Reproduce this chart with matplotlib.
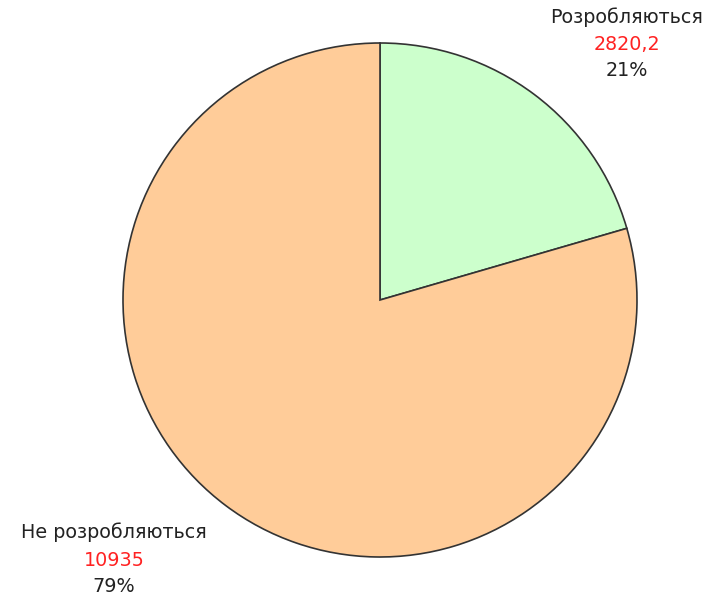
import matplotlib
matplotlib.use("Agg")
import matplotlib.pyplot as plt

categories = ["Розробляються", "Не розробляються"]
values = [2820.2, 10935]
value_labels = ["2820,2", "10935"]
colors = ["#CCFFCC", "#FFCC99"]

W, H = 712, 597
fig = plt.figure(figsize=(W / 100, H / 100), dpi=100)
ax = fig.add_axes([0, 0, 1, 1])
ax.set_xlim(0, W)
ax.set_ylim(H, 0)
ax.axis("off")

pax = fig.add_axes([0, 0, 1, 1])
pax.pie(values, colors=colors, startangle=90, counterclock=False,
        center=(380, H - 300), radius=257,
        wedgeprops=dict(edgecolor="#333333", linewidth=1.2), frame=True)
pax.set_xlim(0, W)
pax.set_ylim(0, H)
pax.axis("off")

total = sum(values)
pcts = [f"{v / total * 100:.0f}%" for v in values]

fs = 13.8
fam = ["DejaVu Sans"]
label_pos = [(627, 17), (114, 532)]
for (x, y), cat, vl, pc in zip(label_pos, categories, value_labels, pcts):
    ax.text(x, y, cat, ha="center", va="center", fontsize=fs, color="#222222", family=fam)
    ax.text(x, y + 28, vl, ha="center", va="center", fontsize=fs, color="#FF2222", family=fam)
    ax.text(x, y + 54, pc, ha="center", va="center", fontsize=fs, color="#222222", family=fam)

fig.savefig("out.png", dpi=100, facecolor="white")
